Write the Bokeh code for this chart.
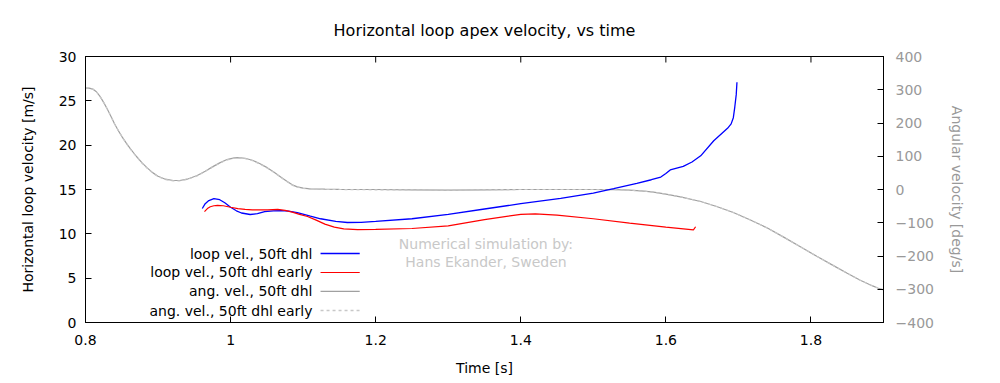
from bokeh.plotting import figure
from bokeh.models import Range1d, LinearAxis, FixedTicker, Label
from bokeh.embed import file_html
from bokeh.resources import INLINE

# ---- data ----
t_loop = [0.961, 0.965, 0.970, 0.977, 0.985, 0.992, 1.000, 1.008, 1.015, 1.027, 1.037, 1.047,
          1.059, 1.070, 1.080, 1.092, 1.110, 1.124, 1.145, 1.161, 1.180, 1.200, 1.250, 1.300,
          1.350, 1.400, 1.455, 1.500, 1.528, 1.560, 1.580, 1.593, 1.600, 1.606, 1.624, 1.636,
          1.648, 1.666, 1.685, 1.690, 1.693, 1.695, 1.697, 1.698]
v_loop = [12.86, 13.4, 13.75, 13.98, 13.85, 13.5, 13.0, 12.6, 12.35, 12.18, 12.28, 12.5,
          12.6, 12.62, 12.55, 12.4, 12.0, 11.7, 11.4, 11.28, 11.3, 11.4, 11.7, 12.2,
          12.8, 13.4, 14.0, 14.6, 15.1, 15.7, 16.1, 16.4, 16.8, 17.2, 17.6, 18.1,
          18.8, 20.5, 21.9, 22.4, 23.1, 24.3, 25.7, 27.1]

t_loop_early = [0.964, 0.968, 0.972, 0.977, 0.982, 0.990, 1.000, 1.010, 1.020, 1.030, 1.041,
                1.051, 1.065, 1.075, 1.085, 1.095, 1.106, 1.118, 1.130, 1.143, 1.156, 1.175,
                1.200, 1.250, 1.300, 1.350, 1.400, 1.420, 1.450, 1.500, 1.550, 1.600,
                1.638, 1.641]
v_loop_early = [12.5, 12.85, 13.05, 13.17, 13.2, 13.17, 13.0, 12.85, 12.75, 12.7, 12.7,
                12.7, 12.75, 12.65, 12.45, 12.2, 11.95, 11.55, 11.1, 10.75, 10.55, 10.48,
                10.5, 10.6, 10.9, 11.6, 12.2, 12.25, 12.1, 11.7, 11.2, 10.75,
                10.45, 10.8]

t_ang = [0.800, 0.805, 0.810, 0.815, 0.820, 0.825, 0.830, 0.835, 0.840, 0.845, 0.850, 0.856,
         0.862, 0.870, 0.878, 0.885, 0.893, 0.900, 0.910, 0.921, 0.930, 0.940, 0.954, 0.965,
         0.975, 0.985, 0.995, 1.005, 1.011, 1.020, 1.030, 1.040, 1.051, 1.060, 1.070, 1.078,
         1.085, 1.092, 1.100, 1.110, 1.130, 1.150, 1.200, 1.250, 1.300, 1.350, 1.400, 1.450,
         1.500, 1.530, 1.550, 1.570, 1.583, 1.600, 1.620, 1.648, 1.670, 1.693, 1.715, 1.740,
         1.763, 1.786, 1.808, 1.831, 1.850, 1.868, 1.885, 1.893, 1.899]
w_ang = [305, 305, 302, 294, 280, 262, 242, 220, 198, 178, 160, 140,
         122, 100, 80, 65, 50, 40, 31, 27, 27, 31, 42, 55,
         68, 80, 90, 95, 96, 94, 88, 78, 65, 52, 36, 24,
         14, 8, 4, 2, 1, 0.5, 0, -1, -2, -1, 0, 0,
         0, -0.5, -2, -5, -8, -14, -22, -36, -51, -69, -90, -116,
         -144, -173, -201, -229, -252, -273, -290, -297, -301]
t_ang_early = list(t_ang)
w_ang_early = [305, 305, 302, 294, 280, 262, 242, 220, 198, 178, 160, 139,
               121, 99, 79, 64, 49, 39, 30, 26, 26, 30, 41, 54,
               67, 79, 89, 94, 95, 93, 87, 77, 64, 51, 35, 23,
               13, 7, 3, 1, 0, 0, -1, -1, -2, -1, 0, 0,
               0, -0.5, -2, -5, -8, -14, -22, -36, -51, -69, -90, -116,
               -144, -173, -201, -229, -252, -273, -290, -297, -301]

x_ticks = [0.8, 1.0, 1.2, 1.4, 1.6, 1.8]
x_tick_labels = {0.8: "0.8", 1.0: "1", 1.2: "1.2", 1.4: "1.4", 1.6: "1.6", 1.8: "1.8"}
y_ticks = [0, 5, 10, 15, 20, 25, 30]
y2_ticks = [-400, -300, -200, -100, 0, 100, 200, 300, 400]

title_text = "Horizontal loop apex velocity, vs time"
series_labels = ["loop vel., 50ft dhl", "loop vel., 50ft dhl early",
                 "ang. vel., 50ft dhl", "ang. vel., 50ft dhl early"]

FONT = "DejaVu Sans"
FS = "14px"
GRAY_TXT = "#999999"

X0, X1, Y0, Y1 = 0.8, 1.9, 0, 30
FRAME_W, FRAME_H = 798, 266

p = figure(frame_width=FRAME_W, frame_height=FRAME_H,
           x_range=Range1d(X0, X1), y_range=Range1d(Y0, Y1),
           output_backend="svg", toolbar_location=None,
           min_border_left=85, min_border_right=109, min_border_top=56, min_border_bottom=55)
p.extra_y_ranges = {"ang": Range1d(-400, 400)}

p.xgrid.visible = False
p.ygrid.visible = False
p.outline_line_color = "black"
p.outline_line_width = 1
p.background_fill_color = "white"
p.border_fill_color = "white"


def style_axis(ax, color="black"):
    ax.major_tick_in = 6
    ax.major_tick_out = 0
    ax.minor_tick_line_color = None
    ax.axis_line_color = "black"
    ax.major_tick_line_color = "black"
    ax.major_label_text_font = FONT
    ax.major_label_text_font_size = FS
    ax.major_label_text_color = color
    ax.axis_label_text_font = FONT
    ax.axis_label_text_font_size = FS
    ax.axis_label_text_font_style = "normal"
    ax.axis_label_text_color = color


xa = p.xaxis[0]
style_axis(xa)
xa.ticker = FixedTicker(ticks=x_ticks)
xa.major_label_overrides = x_tick_labels
xa.axis_label = "Time [s]"
xa.major_label_standoff = 12
xa.axis_label_standoff = 12

ya = p.yaxis[0]
style_axis(ya)
ya.ticker = FixedTicker(ticks=y_ticks)
ya.axis_label = "Horizontal loop velocity [m/s]"
ya.major_label_standoff = 9
ya.axis_label_standoff = 20

ra = LinearAxis(y_range_name="ang")
style_axis(ra, GRAY_TXT)
ra.ticker = FixedTicker(ticks=y2_ticks)
ra.axis_label = "Angular velocity [deg/s]"
ra.major_label_standoff = 12
ra.axis_label_standoff = 12
p.add_layout(ra, "right")

# top border axis: no ticks of its own, carries the chart title as its label
ta = LinearAxis(ticker=FixedTicker(ticks=[]))
style_axis(ta)
ta.axis_label = title_text
ta.axis_label_text_font_size = "16px"
ta.axis_label_standoff = 17
p.add_layout(ta, "above")

# mirrored x ticks on the top border (gnuplot style), 6 px long
tick_len = 6 * (Y1 - Y0) / FRAME_H
p.segment(x0=x_ticks, y0=[Y1] * len(x_ticks), x1=x_ticks, y1=[Y1 - tick_len] * len(x_ticks),
          line_color="black", line_width=1)

# ---- series ----
p.line(t_ang, w_ang, y_range_name="ang", line_color="#a0a0a0", line_width=1.2)
p.line(t_ang_early, w_ang_early, y_range_name="ang", line_color="#c8c8c8", line_width=1.2,
       line_dash="3 3")
p.line(t_loop, v_loop, line_color="#0000ff", line_width=1.3)
p.line(t_loop_early, v_loop_early, line_color="#ff0000", line_width=1.2)

# ---- legend (gnuplot style: text right-aligned, sample on the right) ----
LEG_TEXT_X = 1.1129
LEG_X0, LEG_X1 = 1.124, 1.178
LEG_Y = [7.78, 5.64, 3.50, 1.35]
leg_styles = [dict(line_color="#0000ff", line_width=1.5),
              dict(line_color="#ff0000", line_width=1.2),
              dict(line_color="#a0a0a0", line_width=1.2),
              dict(line_color="#c8c8c8", line_width=1.5, line_dash="3 3")]
for lab, ly, st in zip(series_labels, LEG_Y, leg_styles):
    p.add_layout(Label(x=LEG_TEXT_X, y=ly, text=lab, text_align="right", text_baseline="middle",
                       text_font=FONT, text_font_size=FS, text_color="black"))
    p.segment(x0=[LEG_X0], y0=[ly], x1=[LEG_X1], y1=[ly], **st)

# ---- watermark ----
for txt, yy in [("Numerical simulation by:", 8.8), ("Hans Ekander, Sweden", 6.77)]:
    p.add_layout(Label(x=1.352, y=yy, text=txt, text_align="center", text_baseline="middle",
                       text_font=FONT, text_font_size=FS, text_color="#c8c8c8"))

open("out.html", "w").write(file_html(p, INLINE))
